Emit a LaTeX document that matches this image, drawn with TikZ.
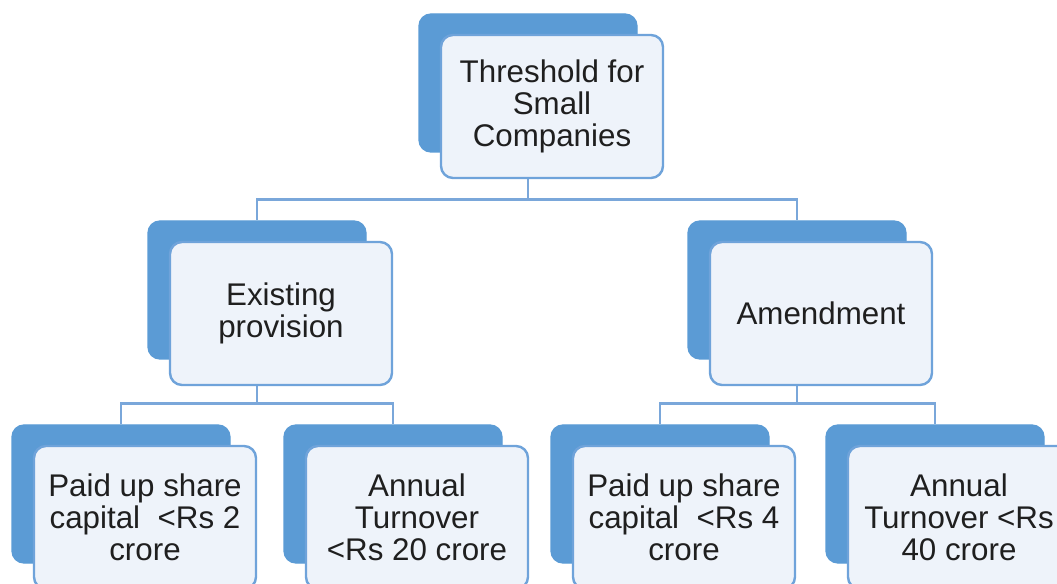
\documentclass[tikz,border=0pt]{standalone}
\usepackage{fontspec}
\setmainfont{Liberation Sans}
\definecolor{backblue}{HTML}{5B9BD5}
\definecolor{frontfill}{HTML}{EEF3FA}
\definecolor{frontline}{HTML}{6FA3DA}
\definecolor{connblue}{HTML}{7AA7DA}
\definecolor{txt}{HTML}{1F1F1F}
\begin{document}
\begin{tikzpicture}[x=0.75pt,y=-0.75pt,
  backbox/.style={draw=backblue,fill=backblue,line width=1pt,rounded corners=9pt,
    minimum width=163.5pt,minimum height=103.5pt,inner sep=0pt},
  frontbox/.style={draw=frontline,fill=frontfill,line width=1.8pt,rounded corners=9pt,
    minimum width=166.5pt,minimum height=107.25pt,inner sep=0pt,align=center,
    text=txt,font=\fontsize{23.5pt}{24pt}\selectfont},
  conn/.style={draw=connblue,line width=1.8pt}]
\useasboundingbox (0,0) rectangle (1057,584);
\clip (0,0) rectangle (1057,584);
% back boxes
\node[backbox] (T) at (528,83) {};
\node[backbox] (E) at (257,290) {};
\node[backbox] (A) at (797,290) {};
\node[backbox] (P1) at (121,494) {};
\node[backbox] (AT1) at (393,494) {};
\node[backbox] (P2) at (660,494) {};
\node[backbox] (AT2) at (935,494) {};
% connectors
\draw[conn] (T.south) -- ++(0,47) -| (E.north);
\draw[conn] (T.south) -- ++(0,47) -| (A.north);
\draw[conn] (E.south) -- ++(0,44) -| (P1.north);
\draw[conn] (E.south) -- ++(0,44) -| (AT1.north);
\draw[conn] (A.south) -- ++(0,44) -| (P2.north);
\draw[conn] (A.south) -- ++(0,44) -| (AT2.north);
% front boxes
\node[frontbox] (Tf) at (552,106.5) {Threshold for\\Small\\Companies};
\node[frontbox] (Ef) at (281,313.5) {Existing\\provision};
\node[frontbox] (Af) at (821,313.5) {Amendment};
\node[frontbox] (P1f) at (145,517.5) {Paid up share\\capital\ \ <Rs 2\\crore};
\node[frontbox] (AT1f) at (417,517.5) {Annual\\Turnover\\<Rs 20 crore};
\node[frontbox] (P2f) at (684,517.5) {Paid up share\\capital\ \ <Rs 4\\crore};
\node[frontbox] (AT2f) at (959,517.5) {Annual\\Turnover <Rs\\40 crore};
\end{tikzpicture}
\end{document}
